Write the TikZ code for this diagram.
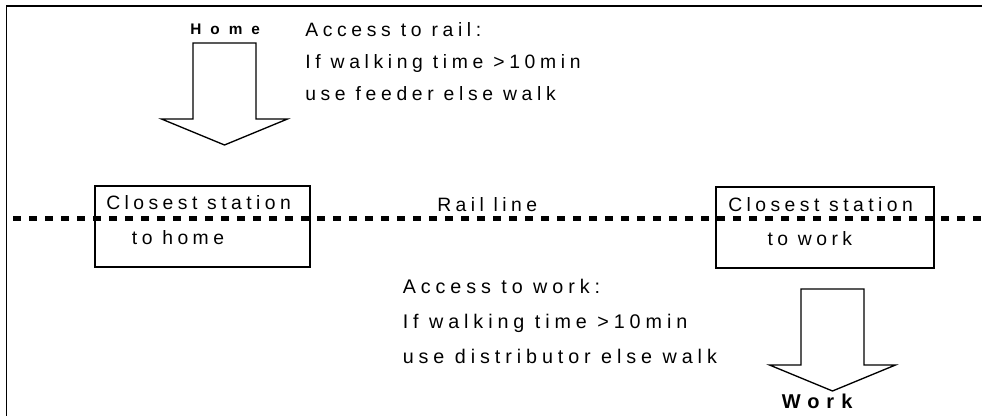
\documentclass[tikz,border=0pt]{standalone}
\usepackage{fontspec}
\setmainfont{Liberation Sans}[LetterSpace=23]
\newfontfamily\toptxtfont{Liberation Sans}[LetterSpace=24]
\newfontfamily\bottxtfont{Liberation Sans}[LetterSpace=25]
\newfontfamily\homefont{Liberation Sans}[LetterSpace=59]
\newfontfamily\workfont{Liberation Sans}[LetterSpace=35]
\begin{document}
\begin{tikzpicture}[x=0.75pt,y=-0.75pt,
  txt/.style={anchor=base west, inner sep=0pt, font=\fontsize{14.5}{17}\selectfont},
  toptxt/.style={anchor=base west, inner sep=0pt, font={\fontsize{14.5}{17}\selectfont\toptxtfont}},
  bottxt/.style={anchor=base west, inner sep=0pt, font={\fontsize{14.8}{17}\selectfont\bottxtfont}},
  stationbox/.style={draw, line width=1.1pt, inner sep=0pt, minimum height=60.75pt},
  bigarrow/.style={draw, line width=1pt, line join=miter},
  rail/.style={line width=4pt, dash pattern=on 6pt off 6pt},
  downarrow/.pic={\draw[bigarrow] (-31.5,0) -- (-31.5,76) -- (-63,76) -- (0,102) -- (63,76) -- (31.5,76) -- (31.5,0) -- cycle;}
]
\useasboundingbox (0,0) rectangle (982,416);
\clip (0,0) rectangle (982,416);
% frame
\draw[line width=1.2pt] (6.5,5.8) rectangle (1000,440);

% arrows
\pic (homearrow) at (224.5,43) {downarrow};
\pic (workarrow) at (832.5,289) {downarrow};
\node[anchor=base west, inner sep=0pt, font={\fontsize{11.5}{14}\selectfont\homefont\bfseries}] (home) at (190,35) {Home};
\node[anchor=base west, inner sep=0pt, font={\fontsize{15}{18}\selectfont\workfont\bfseries}] (work) at (781.5,408.3) {Work};

% access texts
\node[toptxt] (ar1) at (305,37) {Access to rail:};
\node[toptxt] (ar2) at (305,69) {If walking time >10min};
\node[toptxt] (ar3) at (305,101) {use feeder else walk};
\node[bottxt] (aw1) at (402.5,294) {Access to work:};
\node[bottxt] (aw2) at (402.5,329) {If walking time >10min};
\node[bottxt] (aw3) at (402.5,364) {use distributor else walk};

% stations
\node[stationbox, minimum width=161.25pt] (hbox) at (202.5,226.5) {};
\node[stationbox, minimum width=163.5pt] (wbox) at (825,227.5) {};
\node[txt] (h1) at (106,209.3) {Closest station};
\node[txt] (h2) at (131.7,245) {to home};
\node[txt] (w1) at (728,211.7) {Closest station};
\node[txt] (w2) at (767.3,246) {to work};
\node[txt] (railtxt) at (437,211.7) {Rail line};

% rail line
\coordinate (railL) at (13,218.3);
\coordinate (railR) at (1000,218.3);
\draw[rail] (railL) -- (railR);
\end{tikzpicture}
\end{document}
